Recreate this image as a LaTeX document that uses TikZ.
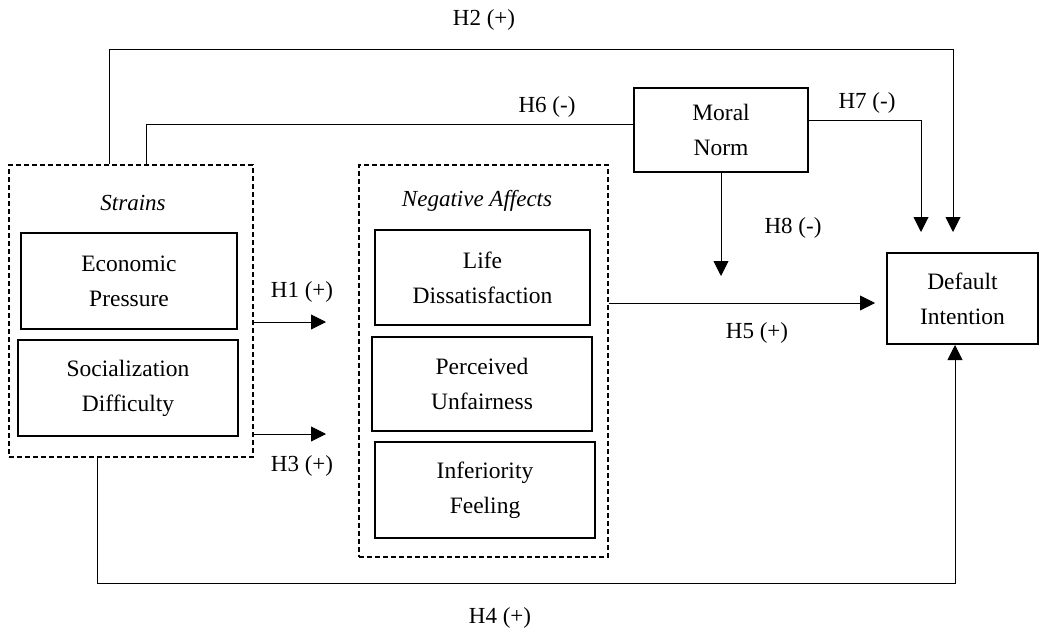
\documentclass[tikz,border=0pt]{standalone}
\usepackage{fontspec}
\setmainfont{Liberation Serif}
\usetikzlibrary{arrows.meta,calc}
\tikzset{
  box/.style={draw, line width=2pt, align=center, inner sep=0pt, font=\fontsize{23.5}{35}\selectfont},
  group/.style={draw, line width=1.3pt, dash pattern=on 5pt off 3pt, inner sep=0pt},
  conn/.style={line width=0.9pt},
  arr/.style={line width=0.9pt, -{Triangle[length=15pt,width=15pt]}},
  lbl/.style={inner sep=0pt, font=\fontsize{23}{27}\selectfont},
  ttl/.style={inner sep=0pt, font=\fontsize{23}{27}\selectfont\itshape},
}
\begin{document}
\begin{tikzpicture}[x=1pt,y=-1pt]
\useasboundingbox (0,0) rectangle (1044,632);
% groups
\node[group, minimum width=244pt, minimum height=292pt] (strains) at (131,311) {};
\node[group, minimum width=249pt, minimum height=392pt] (neg) at (483.5,361) {};
\node[ttl] (strainsT) at (133,203) {Strains};
\node[ttl] (negT) at (477,201) {Negative Affects};
% boxes
\node[box, minimum width=216pt, minimum height=96pt] (econ) at (129,281) {Economic\\Pressure};
\node[box, minimum width=220pt, minimum height=96pt] (social) at (128,388) {Socialization\\Difficulty};
\node[box, minimum width=215pt, minimum height=95pt] (life) at (482.5,277.5) {Life\\Dissatisfaction};
\node[box, minimum width=220pt, minimum height=94pt] (perc) at (482,384) {Perceived\\Unfairness};
\node[box, minimum width=220pt, minimum height=96pt] (inf) at (485,490) {Inferiority\\Feeling};
\node[box, minimum width=174pt, minimum height=84pt] (moral) at (721,130) {Moral\\Norm};
\node[box, minimum width=151pt, minimum height=91pt] (default) at (962.5,298.5) {Default\\Intention};
% free ends / bends
\coordinate (h2c) at (953,49);
\coordinate (h1end) at (326,322);
\coordinate (h3end) at (326,434);
\coordinate (h8end) at (721,276);
% connectors
\draw[arr, shorten >=20pt] ($(strains.north west)+(101,0)$) |- (h2c) -- (h2c |- default.north);
\draw[conn] ($(strains.north west)+(138,0)$) |- ($(moral.west)+(0,-6)$);
\draw[arr] ($(moral.east)+(0,-10)$) -| ($(default.north)+(-41.5,-20)$);
\draw[arr] (moral.south) -- (h8end);
\draw[arr] (strains.east |- h1end) -- (h1end);
\draw[arr] (strains.east |- h3end) -- (h3end);
\draw[arr, shorten >=11pt] ($(neg.east |- default.west)+(0,4.5)$) -- ($(default.west)+(0,4.5)$);
\draw[arr] ($(strains.south west)+(89,0)$) -- ++(0,126) -| ($(default.south)+(-7.5,0)$);
% labels
\node[lbl] (l2) at (484,20) {H2 (+)};
\node[lbl] (l6) at (547,107) {H6 (-)};
\node[lbl] (l7) at (867,103) {H7 (-)};
\node[lbl] (l8) at (793,228) {H8 (-)};
\node[lbl] (l1) at (302,292) {H1 (+)};
\node[lbl] (l3) at (302,466) {H3 (+)};
\node[lbl] (l5) at (757,333) {H5 (+)};
\node[lbl] (l4) at (500,618) {H4 (+)};
\end{tikzpicture}
\end{document}
